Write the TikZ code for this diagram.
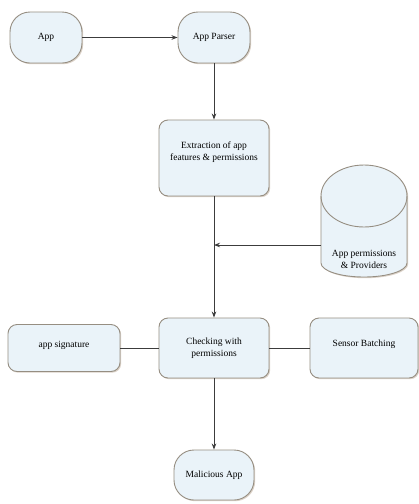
\documentclass[tikz,border=0pt]{standalone}
\usepackage{fontspec}
\setmainfont{Liberation Serif}
\usetikzlibrary{arrows.meta,shadows}
\definecolor{boxfill}{RGB}{234,243,249}
\definecolor{boxline}{RGB}{150,142,130}
\definecolor{wire}{RGB}{60,60,60}
\tikzset{
  base/.style={draw=boxline, fill=boxfill, line width=0.9pt, align=center,
    font=\fontsize{9.5}{12}\selectfont, inner sep=2pt,
    drop shadow={shadow xshift=1.2pt, shadow yshift=-1.2pt, opacity=0.25, fill=brown!60!black}},
  stadium/.style={base, rounded corners=20pt},
  roundbox/.style={base, rounded corners=9pt},
  wireline/.style={draw=wire, line width=0.8pt},
  arr/.style={wireline, -{Stealth[length=6pt,width=4.5pt]}},
}
\begin{document}
\begin{tikzpicture}[x=1pt,y=-1pt]
\useasboundingbox (0,0) rectangle (419,504);
\fill[white] (0,0) rectangle (419,504);

\node[stadium, minimum width=72pt, minimum height=51pt] (app) at (46,37.5) {App};
\node[stadium, minimum width=72pt, minimum height=51pt] (parser) at (214,37.5) {App Parser};
\node[roundbox, minimum width=110pt, minimum height=76pt, text depth=14pt] (extract) at (214,158) {Extraction of app\\features \& permissions};
\node[roundbox, minimum width=110pt, minimum height=60pt] (check) at (214,348) {Checking with\\permissions};
\node[roundbox, minimum width=112pt, minimum height=47pt, text depth=8pt] (sig) at (64,348) {app signature};
\node[roundbox, minimum width=108pt, minimum height=60pt, text depth=10pt] (sensor) at (364,348) {Sensor Batching};
\node[stadium, minimum width=80pt, minimum height=50pt] (mal) at (214,475) {Malicious App};

% database cylinder
\path[base] (321,196) -- (321,263) arc[start angle=180, end angle=360, x radius=43pt, y radius=14pt] -- (407,196) arc[start angle=0, end angle=180, x radius=43pt, y radius=31pt] -- cycle;
\draw[draw=boxline, line width=0.9pt] (321,196) arc[start angle=180, end angle=360, x radius=43pt, y radius=31pt];
\node[font=\fontsize{9.5}{12}\selectfont, align=center, inner sep=0pt] (db) at (364,259) {App permissions\\\& Providers};
\coordinate (dbleft) at (321,245);
\coordinate (join) at (214,245);

\draw[arr] (app.east) -- (parser.west);
\draw[arr] (parser.south) -- (extract.north);
\draw[arr] (extract.south) -- (check.north);
\draw[arr] (dbleft) -- (join);
\draw[wireline] (sig.east) -- (check.west);
\draw[wireline] (sensor.west) -- (check.east);
\draw[arr] (check.south) -- (mal.north);
\end{tikzpicture}
\end{document}
